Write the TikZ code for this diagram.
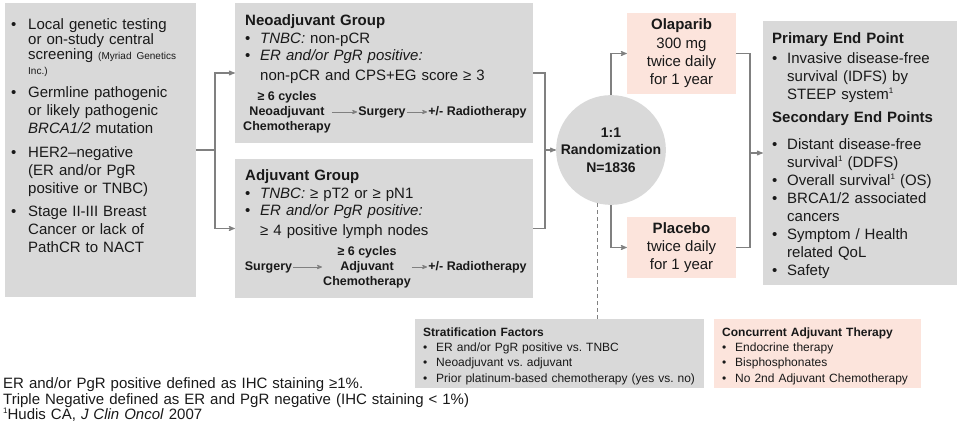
\documentclass[tikz,border=0pt]{standalone}
\usepackage{fontspec}
\setmainfont{Liberation Sans}
\usepackage{xcolor}
\usepackage{enumitem}
\usepackage{tikz}
\usetikzlibrary{arrows,calc,positioning,shapes.geometric}

\definecolor{boxgrey}{RGB}{217,217,217}
\definecolor{armpink}{RGB}{252,228,220}
\definecolor{linegrey}{RGB}{128,128,128}
\definecolor{txt}{RGB}{25,25,25}

\setlist[itemize]{label=\textbullet,leftmargin=15pt,labelsep=3pt,labelwidth=12pt,align=left,topsep=0pt,partopsep=0pt,parsep=0pt,itemsep=0pt}
\newcommand{\refone}{\raisebox{0.42em}{\fontsize{8}{8}\selectfont 1}}
\frenchspacing

\begin{document}
\begin{tikzpicture}[x=1pt,y=-1pt,>=stealth']
			\tikzstyle{greybox}=[fill=boxgrey,draw=none,inner sep=0pt]
			\tikzstyle{pinkbox}=[fill=armpink,draw=none,inner sep=0pt,align=center,text=txt,font=\fontsize{15}{18.3}\selectfont]
			\tikzstyle{txtblock}=[anchor=north west,inner sep=0pt,align=left,text=txt]
			\tikzstyle{flow}=[inner sep=1pt,align=center,text=txt,font=\bfseries\fontsize{12.5}{15}\selectfont]
			\tikzstyle{conn}=[draw=linegrey,line width=1.1pt]
			\tikzstyle{arr}=[conn,->]
			
			\useasboundingbox (0,0) rectangle (960,427);
			
			% boxes
			\node[greybox,minimum width=191,minimum height=294] (crit) at (100.5,150) {};
			\node[greybox,minimum width=298,minimum height=140] (neo) at (384,73) {};
			\node[greybox,minimum width=298,minimum height=139] (adj) at (384,228.5) {};
			\node[circle,fill=boxgrey,minimum size=106,inner sep=0pt,align=center,text=txt,
				font=\bfseries\fontsize{14}{17.5}\selectfont] (rand) at (611,150) {1:1\\Randomization\\N=1836};
			\node[pinkbox,minimum width=109,minimum height=81] (ola) at (681.5,53.5) {\textbf{Olaparib}\\300 mg\\twice daily\\for 1 year};
			\node[pinkbox,minimum width=109,minimum height=61] (pla) at (681.5,247.5) {\textbf{Placebo}\\twice daily\\for 1 year};
			\node[greybox,minimum width=194,minimum height=264] (endp) at (860,153) {};
			\node[greybox,minimum width=289,minimum height=69] (strat) at (559.5,353.5) {};
			\node[fill=armpink,inner sep=0pt,minimum width=207,minimum height=69] (conc) at (817.5,353.5) {};
			
			% texts
			\node[txtblock,text width=185,font=\fontsize{15}{18}\selectfont] (crittext) at (11,17) {%
				\begin{itemize}[leftmargin=17pt,labelwidth=14pt,itemsep=5.5pt]
				\item Local genetic testing\newline or on-study central\newline screening {\fontsize{10}{12}\selectfont (Myriad Genetics\\[-3pt] Inc.)}
				\item Germline pathogenic\newline or likely pathogenic\newline \textit{BRCA1/2} mutation
				\item HER2–negative\newline (ER and/or PgR\newline positive or TNBC)
				\item Stage II-III Breast\newline Cancer or lack of\newline PathCR to NACT
				\end{itemize}};
			
			\node[txtblock,text width=285,font=\fontsize{15}{17.5}\selectfont] (neotext) at (245,14.5) {%
				\textbf{Neoadjuvant Group}
				\begin{itemize}
				\item \textit{TNBC:} non-pCR
				\item \textit{ER and/or PgR positive:}\\[2.5pt] non-pCR and CPS+EG score ≥ 3
				\end{itemize}};
			\node[flow] (neochemo) at (287,112) {≥ 6 cycles\\Neoadjuvant\\Chemotherapy};
			\node[flow] (neosurg) at (382,112) {Surgery};
			\node[flow] (neoradio) at (477.5,112) {+/- Radiotherapy};
			
			\node[txtblock,text width=285,font=\fontsize{15}{17.5}\selectfont] (adjtext) at (245,169.5) {%
				\textbf{Adjuvant Group}
				\begin{itemize}
				\item \textit{TNBC:} ≥ pT2 or ≥ pN1
				\item \textit{ER and/or PgR positive:}\\[2.5pt] ≥ 4 positive lymph nodes
				\end{itemize}};
			\node[flow] (adjsurg) at (268.5,267) {Surgery};
			\node[flow] (adjchemo) at (367,267) {≥ 6 cycles\\Adjuvant\\Chemotherapy};
			\node[flow] (adjradio) at (477.5,267) {+/- Radiotherapy};
			
			\node[txtblock,text width=185,font=\fontsize{15}{18}\selectfont] (endtext) at (772,32.5) {%
				\textbf{Primary End Point}\par\vspace{2pt}
				\begin{itemize}
				\item Invasive disease-free\newline survival (IDFS) by\newline STEEP system\refone
				\end{itemize}
				\vspace{5pt}\textbf{Secondary End Points}\par\vspace{9pt}
				\begin{itemize}
				\item Distant disease-free\newline survival\refone{} (DDFS)
				\item Overall survival\refone{} (OS)
				\item BRCA1/2 associated\newline cancers
				\item Symptom / Health\newline related QoL
				\item Safety
				\end{itemize}};
			
			\node[txtblock,text width=280,font=\fontsize{12}{15.3}\selectfont] (strattext) at (423,327.5) {%
				\textbf{Stratification Factors}
				\begin{itemize}[leftmargin=13pt,labelwidth=11pt,labelsep=2pt]
				\item ER and/or PgR positive vs. TNBC
				\item Neoadjuvant vs. adjuvant
				\item Prior platinum-based chemotherapy (yes vs. no)
				\end{itemize}};
			\node[txtblock,text width=200,font=\fontsize{12}{15.3}\selectfont] (conctext) at (722,327.5) {%
				\textbf{Concurrent Adjuvant Therapy}
				\begin{itemize}[leftmargin=13pt,labelwidth=11pt,labelsep=2pt]
				\item Endocrine therapy
				\item Bisphosphonates
				\item No 2nd Adjuvant Chemotherapy
				\end{itemize}};
			
			\node[txtblock,text width=480,font=\fontsize{15}{15.5}\selectfont] (notes) at (3,377.5) {%
				ER and/or PgR positive defined as IHC staining ≥1\%.\\
				Triple Negative defined as ER and PgR negative (IHC staining < 1\%)\\
				\refone Hudis CA, \textit{J Clin Oncol} 2007};
			
			% connectors
			\coordinate (split) at (215,150);
			\coordinate (merge) at (545,150);
			\coordinate (merge2) at (750,153);
			
			\draw[conn] (crit.east) -- (split);
			\draw[arr] (split) |- (neo.west);
			\draw[arr] (split) |- (adj.west);
			
			\draw[conn] (neo.east) -| (merge) |- (adj.east);
			\draw[arr] (merge) -- (rand);
			
			\draw[arr] (rand.north) |- (ola.west);
			\draw[arr] (rand.south) |- (pla.west);
			
			\draw[conn] (ola.east) -| (merge2) |- (pla.east);
			\draw[arr] (merge2) -- (endp.west);
			
			\draw[conn,line width=1pt,dash pattern=on 4pt off 3pt] (rand.256) -- (rand.256 |- strat.north);
			
			\draw[arr,line width=0.8pt] (neochemo) -- (neosurg);
			\draw[arr,line width=0.8pt] (neosurg) -- (neoradio);
			\draw[arr,line width=0.8pt] (adjsurg) -- (adjchemo);
			\draw[arr,line width=0.8pt] (adjchemo) -- (adjradio);
		\end{tikzpicture}
\end{document}
